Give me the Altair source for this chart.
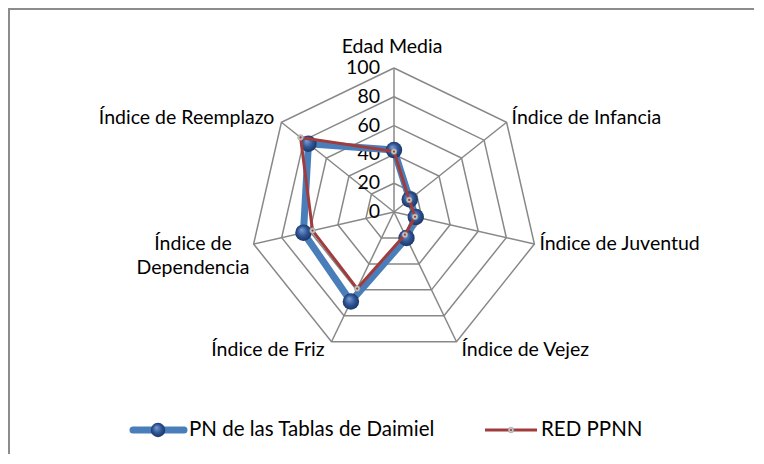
import altair as alt
import pandas as pd
import numpy as np

# ---------------- data ----------------
categories = ["Edad Media", "Índice de Infancia", "Índice de Juventud",
              "Índice de Vejez", "Índice de Friz", "Índice de\nDependencia",
              "Índice de Reemplazo"]
series_names = ["PN de las Tablas de Daimiel", "RED PPNN"]
values_pn = [43, 14, 15.5, 20, 69, 64.5, 76]
values_red = [42, 13.5, 15, 17.5, 59, 58, 83]
ring_ticks = [0, 20, 40, 60, 80, 100]

# ---------------- geometry / style ----------------
W, H = 746, 446
K = 1.44                     # px per unit
CX, CY = 386, 204            # centre in plot px
xs = alt.Scale(domain=[-CX / K, (W - CX) / K], nice=False, zero=False)
ys = alt.Scale(domain=[-(H - CY) / K, CY / K], nice=False, zero=False)
N = len(categories)
FONT = "Lato"
FS = 19.5
FS_LEG = 20.5
BLUE = "#4a7ebb"
RED = "#a03c3c"
GRID = "#888888"

sphere = alt.RadialGradient(
    gradient="radial",
    stops=[alt.GradientStop(color="#7d9fd3", offset=0),
           alt.GradientStop(color="#2f5597", offset=0.55),
           alt.GradientStop(color="#17305c", offset=1)],
    x1=0.38, y1=0.32, r1=0.0, x2=0.5, y2=0.5, r2=0.55)

# series in long form (closed polygons)
rows = []
for s, vals in zip(series_names, [values_pn, values_red]):
    for i in range(N + 1):
        rows.append({"series": s, "idx": i % N, "value": vals[i % N], "ord": i})
df = pd.DataFrame(rows)

grid_rows = []
for t in ring_ticks[1:]:
    for i in range(N + 1):
        grid_rows.append({"ring": t, "idx": i % N, "value": t, "ord": i})
grid_df = pd.DataFrame(grid_rows)

spoke_df = pd.DataFrame({"idx": list(range(N)), "value": [ring_ticks[-1]] * N})
tick_df = pd.DataFrame({"t": ring_ticks, "label": [str(t) for t in ring_ticks]})

# category label anchors (derived from angle)
lab = []
for i, c in enumerate(categories):
    a = 2 * np.pi * i / N
    s, co = np.sin(a), np.cos(a)
    lines = c.split("\n")
    if s > 0.2:
        align, dx = "left", 5
    elif s < -0.2:
        align, dx = "right", -7
    else:
        align, dx = "center", -2
    if len(lines) > 1:
        # wrapped label: centred block, placed beside the vertex
        half = 0.25 * FS * max(len(l) for l in lines)
        dx = dx + (half if s > 0 else -half)
        align = "center"
    if co > 0.95:
        dy = -21
    elif co > 0.3:
        dy = -4
    elif co > -0.5:
        dy = 0
    else:
        dy = 8
    lab.append({"cat": c, "align": align,
                "lx": 100 * s + dx / K, "ly": 100 * co - dy / K})
lab_df = pd.DataFrame(lab)


def xy(ch):
    return ch.transform_calculate(ang="2*PI*datum.idx/%d" % N).transform_calculate(
        px="datum.value*sin(datum.ang)", py="datum.value*cos(datum.ang)")


X = alt.X("px:Q", scale=xs, axis=None)
Y = alt.Y("py:Q", scale=ys, axis=None)

grid = xy(alt.Chart(grid_df).mark_line(color=GRID, strokeWidth=1.5)).encode(
    x=X, y=Y, detail="ring:N", order="ord:Q")

spokes = xy(alt.Chart(spoke_df).mark_rule(color=GRID, strokeWidth=1.5)).transform_calculate(
    zx="0", zy="0").encode(
    x=alt.X("zx:Q", scale=xs, axis=None), y=alt.Y("zy:Q", scale=ys, axis=None),
    x2="px:Q", y2="py:Q")

ticks = alt.Chart(tick_df).mark_text(align="right", baseline="middle", dx=-14,
                                     font=FONT, fontSize=FS, color="#000").transform_calculate(
    zx="0").encode(x=alt.X("zx:Q", scale=xs, axis=None),
                   y=alt.Y("t:Q", scale=ys, axis=None), text="label:N")

cat_layers = []
for al in ["left", "right", "center"]:
    sub = lab_df[lab_df["align"] == al]
    if len(sub) == 0:
        continue
    cat_layers.append(
        alt.Chart(sub).mark_text(
            align=al, baseline="middle", font=FONT, fontSize=FS, color="#000",
            lineBreak="\n", lineHeight=24).encode(
            x=alt.X("lx:Q", scale=xs, axis=None), y=alt.Y("ly:Q", scale=ys, axis=None),
            text="cat:N"))

base_pn = xy(alt.Chart(df[df["series"] == series_names[0]]))
base_red = xy(alt.Chart(df[df["series"] == series_names[1]]))

pn_line = base_pn.mark_line(color=BLUE, strokeWidth=7, strokeJoin="round").encode(
    x=X, y=Y, order="ord:Q")
pn_pts = base_pn.mark_circle(size=270, opacity=1, color=sphere).transform_filter(
    "datum.ord < %d" % N).encode(x=X, y=Y)
red_line = base_red.mark_line(color=RED, strokeWidth=3).encode(x=X, y=Y, order="ord:Q")
red_pts = base_red.mark_circle(size=32, opacity=1, color="#c4c4c4", stroke="#9a9a9a",
                               strokeWidth=0.6).transform_filter(
    "datum.ord < %d" % N).encode(x=X, y=Y)
red_dot = base_red.mark_circle(size=5, opacity=1, color=RED).transform_filter(
    "datum.ord < %d" % N).encode(x=X, y=Y)

# legend
leg_df = pd.DataFrame({"series": series_names})
LY = 422
leg_pn_line = alt.Chart(leg_df[leg_df.series == series_names[0]]).mark_rule(
    color=BLUE, strokeWidth=7, strokeCap="round").encode(
    x=alt.value(125), x2=alt.value(176), y=alt.value(LY))
leg_pn_pt = alt.Chart(leg_df[leg_df.series == series_names[0]]).mark_circle(
    size=210, opacity=1, color=sphere).encode(x=alt.value(150), y=alt.value(LY))
leg_pn_txt = alt.Chart(leg_df[leg_df.series == series_names[0]]).mark_text(
    align="left", baseline="middle", font=FONT, fontSize=FS_LEG, color="#000").encode(
    x=alt.value(181), y=alt.value(LY), text="series:N")
leg_red_line = alt.Chart(leg_df[leg_df.series == series_names[1]]).mark_rule(
    color=RED, strokeWidth=3).encode(x=alt.value(477), x2=alt.value(529), y=alt.value(LY))
leg_red_pt = alt.Chart(leg_df[leg_df.series == series_names[1]]).mark_circle(
    size=32, opacity=1, color="#c4c4c4", stroke="#9a9a9a", strokeWidth=0.6).encode(
    x=alt.value(503), y=alt.value(LY))
leg_red_dot = alt.Chart(leg_df[leg_df.series == series_names[1]]).mark_circle(
    size=5, opacity=1, color=RED).encode(x=alt.value(503), y=alt.value(LY))
leg_red_txt = alt.Chart(leg_df[leg_df.series == series_names[1]]).mark_text(
    align="left", baseline="middle", font=FONT, fontSize=FS_LEG, color="#000").encode(
    x=alt.value(533), y=alt.value(LY), text="series:N")

# frame (top and left edges)
frame_top = alt.Chart(leg_df.head(1)).mark_rule(color="#8c8c8c", strokeWidth=2).encode(
    x=alt.value(0), x2=alt.value(W), y=alt.value(1))
frame_left = alt.Chart(leg_df.head(1)).mark_rule(color="#8c8c8c", strokeWidth=2).encode(
    x=alt.value(1), y=alt.value(0), y2=alt.value(H))

chart = alt.layer(
    frame_top, frame_left, grid, spokes, ticks, *cat_layers,
    pn_line, pn_pts, red_line, red_pts, red_dot,
    leg_pn_line, leg_pn_pt, leg_pn_txt, leg_red_line, leg_red_pt, leg_red_dot, leg_red_txt,
).properties(
    width=W, height=H, autosize=alt.AutoSizeParams(type="none"), padding=0,
    background="white",
).configure_view(stroke=None)

chart.save("out.html", embed_options={"renderer": "svg", "actions": False})
